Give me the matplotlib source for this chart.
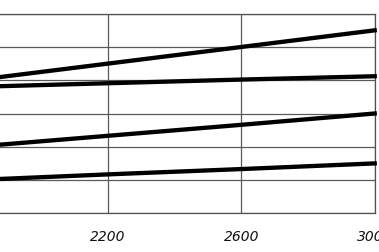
import matplotlib.pyplot as plt

# x positions and the four straight lines
x_vals = [1800, 2200, 2600, 3000]
line_a = [4.0, 4.5, 5.0, 5.5]
line_b = [3.8, 3.91, 4.02, 4.12]
line_c = [2.0, 2.33, 2.66, 3.0]
line_d = [1.0, 1.17, 1.33, 1.5]

x_ticks = [2200, 2600, 3000]
x_ticklabels = ['2200', '2600', '3000']

fig = plt.figure(figsize=(3.79, 2.53), dpi=100)
# axes extend past the left edge of the figure, as in the cropped original
ax = fig.add_axes([-25.3 / 379, 38.7 / 253, 400 / 379, 199.6 / 253])

for ys in (line_a, line_b, line_c, line_d):
    ax.plot(x_vals, ys, color='black', lw=3.1, solid_capstyle='projecting',
            clip_on=False, zorder=3)

ax.set_xlim(1800, 3000)
ax.set_ylim(0, 6)
ax.set_xticks(x_ticks)
ax.set_xticklabels(x_ticklabels, fontstyle='italic', fontsize=10, color='#111111')
ax.set_yticks(range(0, 7))
ax.set_yticklabels([])
ax.tick_params(length=0, axis='x', pad=11)
ax.tick_params(length=0, axis='y')
ax.grid(True, color='#5a5a5a', lw=0.9)
for s in ax.spines.values():
    s.set_color('#505050')
    s.set_linewidth(0.9)

fig.savefig('out.png', dpi=100)
